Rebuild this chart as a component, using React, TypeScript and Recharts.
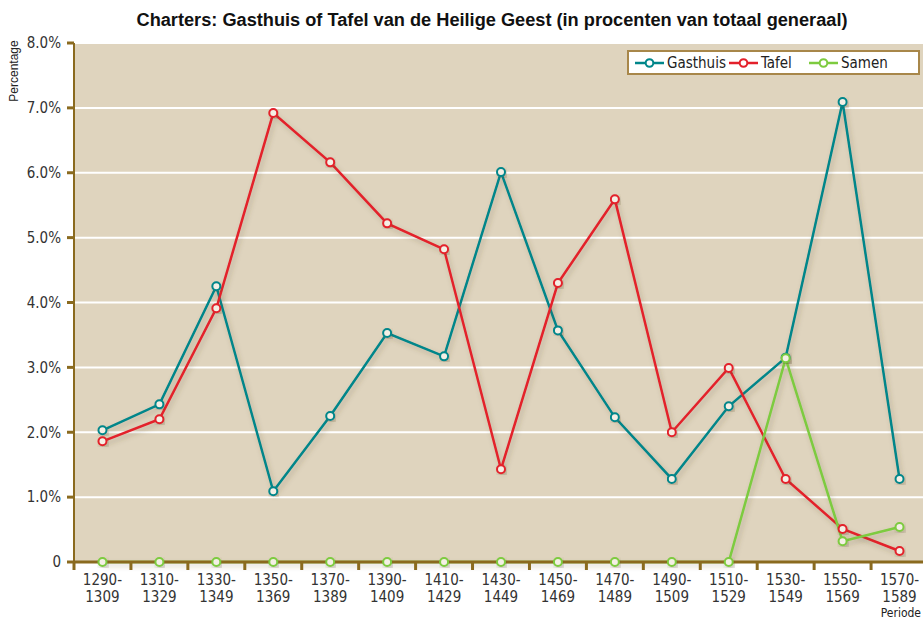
import React from 'react';
import { LineChart, Line, XAxis, YAxis, CartesianGrid } from 'recharts';

const categories = [
  '1290-1309', '1310-1329', '1330-1349', '1350-1369', '1370-1389',
  '1390-1409', '1410-1429', '1430-1449', '1450-1469', '1470-1489',
  '1490-1509', '1510-1529', '1530-1549', '1550-1569', '1570-1589',
];
const gasthuis = [2.03, 2.43, 4.25, 1.09, 2.25, 3.53, 3.17, 6.01, 3.57, 2.23, 1.28, 2.4, 3.15, 7.09, 1.28];
const tafel = [1.86, 2.2, 3.91, 6.92, 6.16, 5.22, 4.82, 1.43, 4.3, 5.59, 2.0, 2.99, 1.28, 0.51, 0.17];
const samen = [0, 0, 0, 0, 0, 0, 0, 0, 0, 0, 0, 0, 3.14, 0.32, 0.54];
const yTicks = [0, 1, 2, 3, 4, 5, 6, 7, 8];
const seriesNames = ['Gasthuis', 'Tafel', 'Samen'];
const seriesKeys = ['gasthuis', 'tafel', 'samen'];
const seriesColors = ['#00868a', '#e3202b', '#7dcb3f'];
const titleText = 'Charters: Gasthuis of Tafel van de Heilige Geest (in procenten van totaal generaal)';
const yLabel = 'Percentage';
const xLabel = 'Periode';

const data = categories.map((c, i) => ({
  pos: i + 0.5,
  label: c,
  gasthuis: gasthuis[i],
  tafel: tafel[i],
  samen: samen[i],
}));

const xTicks: number[] = [];
for (let i = 0; i <= categories.length; i++) {
  xTicks.push(i);
  if (i < categories.length) xTicks.push(i + 0.5);
}

const BROWN = '#8a6a1f';
const NARROW = "'Liberation Sans Narrow', 'DejaVu Sans Condensed', 'Roboto Condensed', Arial, sans-serif";
const SANS = "'Liberation Sans', Arial, Helvetica, sans-serif";

const XTick = (props: any) => {
  const { x, y, payload } = props;
  const v = payload.value as number;
  if (Number.isInteger(v)) {
    return <line x1={x} x2={x} y1={y} y2={y + 8} stroke={BROWN} strokeWidth={3} />;
  }
  const idx = Math.floor(v);
  const lab = categories[idx] || '';
  const [a, b] = lab.split('-');
  return (
    <text x={x} y={y} textAnchor="middle" fill="#333" fontSize={15} fontFamily={NARROW}>
      <tspan x={x} dy={23}>{a + '-'}</tspan>
      <tspan x={x} dy={17}>{b}</tspan>
    </text>
  );
};

const LegendBox = () => {
  const widths = [94, 80, 80];
  return (
    <div
      style={{
        position: 'absolute',
        left: 627,
        top: 50,
        width: 283,
        height: 21,
        background: '#fff',
        border: '2px solid #a8874a',
        display: 'flex',
        alignItems: 'center',
        paddingLeft: 6,
        boxSizing: 'content-box',
      }}
    >
      {seriesNames.map((n, i) => (
        <div key={n} style={{ display: 'flex', alignItems: 'center', width: widths[i] }}>
          <svg width={29} height={12} style={{ display: 'block' }}>
            <line x1={0} x2={29} y1={6} y2={6} stroke={seriesColors[i]} strokeWidth={2.5} />
            <circle cx={14.5} cy={6} r={3.8} fill="#fff" stroke={seriesColors[i]} strokeWidth={2} />
          </svg>
          <span style={{ fontFamily: NARROW, fontSize: 15, color: '#222', marginLeft: 3, lineHeight: '16px' }}>{n}</span>
        </div>
      ))}
    </div>
  );
};

export default function App() {
  return (
    <div style={{ position: 'absolute', left: 0, top: 0, width: 923, height: 620, overflow: 'hidden', background: '#fff' }}>
      <LineChart width={928} height={620} data={data} margin={{ top: 43, right: 0, bottom: 0, left: 0 }}>
        <defs>
          <filter id="lineShadow" x="-10%" y="-10%" width="130%" height="130%">
            <feDropShadow dx="2" dy="3" stdDeviation="2.5" floodColor="#5a4a2a" floodOpacity="0.28" />
          </filter>
        </defs>
        <CartesianGrid vertical={false} stroke="#ffffff" strokeWidth={2} fill="#dfd4be" fillOpacity={1} />
        <XAxis
          dataKey="pos"
          type="number"
          domain={[0, categories.length]}
          ticks={xTicks}
          interval={0}
          height={58}
          tickLine={false}
          tickSize={0}
          tickMargin={0}
          axisLine={{ stroke: BROWN, strokeWidth: 3 }}
          tick={<XTick />}
        />
        <YAxis
          type="number"
          domain={[0, 8]}
          ticks={yTicks}
          interval={0}
          width={74}
          tickSize={7}
          tickMargin={6}
          axisLine={{ stroke: BROWN, strokeWidth: 2 }}
          tickLine={{ stroke: BROWN, strokeWidth: 3 }}
          tick={{ fill: '#333', fontSize: 15, fontFamily: NARROW }}
          tickFormatter={(v: number) => (v === 0 ? '0' : v.toFixed(1) + '%')}
        />
        {seriesKeys.map((k, i) => (
          <Line
            key={k}
            type="linear"
            dataKey={k}
            name={seriesNames[i]}
            stroke={seriesColors[i]}
            strokeWidth={2.5}
            filter="url(#lineShadow)"
            dot={{ r: 4, strokeWidth: 2, fill: '#f4efe5', stroke: seriesColors[i] }}
            activeDot={false}
            isAnimationActive={false}
          />
        ))}
        <text
          x={492}
          y={26}
          textAnchor="middle"
          fontFamily={SANS}
          fontWeight="bold"
          fontSize={17.5}
          fill="#111"
          textLength={711}
          lengthAdjust="spacingAndGlyphs"
        >
          {titleText}
        </text>
        <text
          x={18}
          y={71}
          textAnchor="middle"
          transform="rotate(-90 18 71)"
          fontFamily={SANS}
          fontSize={12}
          fill="#222"
        >
          {yLabel}
        </text>
        <text x={921} y={617} textAnchor="end" fontFamily={NARROW} fontSize={12} fill="#222">
          {xLabel}
        </text>
      </LineChart>
      <LegendBox />
    </div>
  );
}
